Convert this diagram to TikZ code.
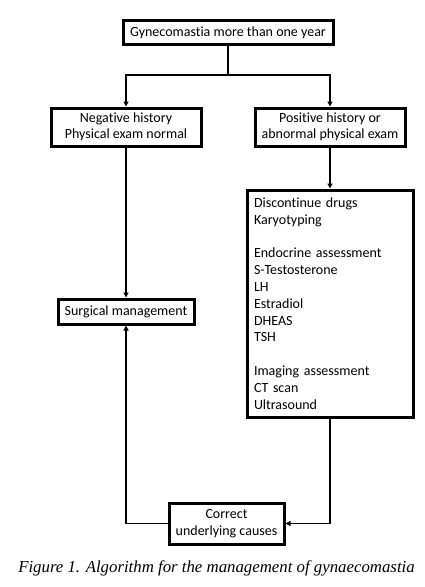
\documentclass[tikz,border=0pt]{standalone}
\usepackage{fontspec}
\setmainfont{Carlito}[Ligatures=NoCommon]
\newfontfamily\capfont{Liberation Serif}
\usetikzlibrary{arrows.meta}
\begin{document}
\begin{tikzpicture}[x=1pt,y=-1pt,
  box/.style={draw=black,line width=3pt,inner sep=0pt,align=center,font=\fontsize{14}{16.5}\selectfont},
  conn/.style={line width=1.5pt},
  arr/.style={conn,-{Triangle[length=5pt,width=5pt]}}]
\useasboundingbox[fill=white] (0,0) rectangle (425,587);
\node[box,minimum width=210pt,minimum height=24pt] (top) at (228,32.5) {Gynecomastia more than one year};
\node[box,minimum width=150pt,minimum height=38pt] (left) at (126,127) {Negative history\\Physical exam normal};
\node[box,minimum width=150pt,minimum height=38pt] (right) at (330,127) {Positive history or\\abnormal physical exam};
\node[box,minimum width=166pt,minimum height=227pt,text width=152pt,align=left,font=\fontsize{14}{16.8}\selectfont] (big) at (330,303.5) {Discontinue drugs\\Karyotyping\\[16.8pt]Endocrine assessment\\S-Testosterone\\LH\\Estradiol\\DHEAS\\TSH\\[16.8pt]Imaging assessment\\CT scan\\Ultrasound};
\node[box,minimum width=136pt,minimum height=25pt] (surg) at (126,311.5) {Surgical management};
\node[box,minimum width=115pt,minimum height=41pt] (corr) at (226.5,523.5) {Correct\\underlying causes};
\coordinate (j) at (228,75);
\draw[conn] (top.south) -- (j);
\draw[arr] (j) -| (left.north);
\draw[arr] (j) -| (right.north);
\draw[arr] (left.south) -- (surg.north);
\draw[arr] (right.south) -- (big.north);
\draw[arr] (big.south) |- (corr.east);
\draw[arr] (corr.west) -| (surg.south);
\node[font=\capfont\itshape\fontsize{16.8}{18}\selectfont,inner sep=0pt] (cap) at (216.5,568) {Figure 1. Algorithm for the management of gynaecomastia};
\end{tikzpicture}
\end{document}
